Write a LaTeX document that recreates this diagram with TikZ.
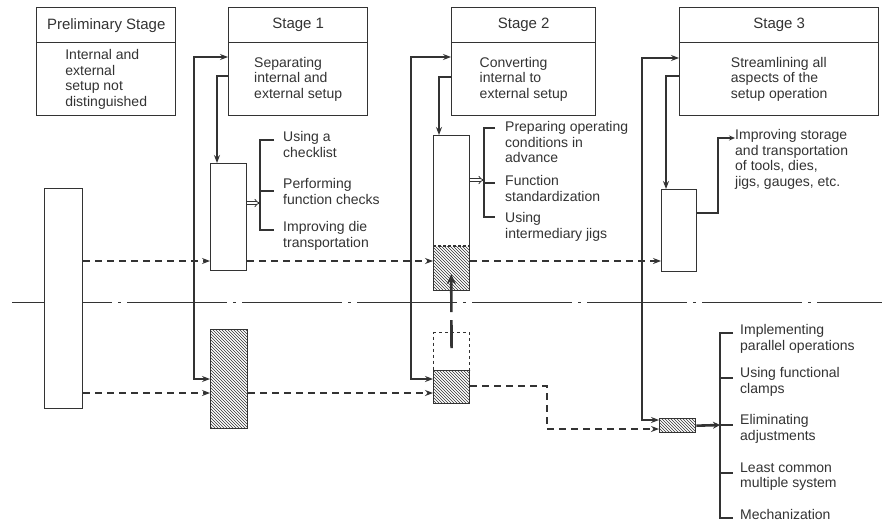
\documentclass[tikz,border=0pt]{standalone}
\usepackage{fontspec}
\setmainfont{Liberation Sans}
\usetikzlibrary{arrows.meta,patterns}
\definecolor{ink}{HTML}{333333}
\begin{document}
\begin{tikzpicture}[x=1pt,y=-1pt,
  every node/.style={text=ink},
  ln/.style={draw=ink, line width=1.1pt},
  boxl/.style={draw=ink, line width=1.4pt, fill=white, inner sep=0pt, anchor=north west},
  hdr/.style={boxl, font=\fontsize{15}{17}\selectfont},
  bdy/.style={boxl, font=\fontsize{14}{15.5}\selectfont, align=left},
  item/.style={inner sep=0pt, anchor=north west, align=left, font=\fontsize{14}{15.5}\selectfont},
  tip/.style={-{Stealth[length=8pt,width=6pt]}},
  twotip/.style={{Stealth[length=8pt,width=6pt]}-{Stealth[length=8pt,width=6pt]}},
  dsh/.style={ln, dash pattern=on 7pt off 5pt},
  hatch/.style={draw=ink, line width=1.4pt, inner sep=0pt, anchor=north west, pattern=north west lines, pattern color=ink},
  hollow/.style={draw=ink, line width=0.8pt, double distance=2pt, -{Implies}},
  thick/.style={draw=ink, line width=2.6pt},
]
\useasboundingbox (0,0) rectangle (882,522);
\fill[white] (0,0) rectangle (882,522);

% centre line
\coordinate (cl1) at (12,302);
\coordinate (cl2) at (882,302);
\draw[ln, line width=1pt, dash pattern=on 100pt off 6pt on 3pt off 6pt] (cl1) -- (cl2);

% stage boxes
\node[hdr, minimum width=139pt, minimum height=35pt] (p0h) at (36,7) {Preliminary Stage};
\node[bdy, minimum width=139pt, minimum height=73pt] (p0b) at (36,42) {Internal and\\external\\setup not\\distinguished};
\node[hdr, minimum width=139pt, minimum height=35pt] (s1h) at (228,7) {Stage 1};
\node[bdy, minimum width=139pt, minimum height=73pt] (s1b) at (228,42) {Separating\\internal and\\external setup};
\node[hdr, minimum width=144pt, minimum height=35pt] (s2h) at (451,7) {Stage 2};
\node[bdy, minimum width=144pt, minimum height=73pt] (s2b) at (451,42) {Converting\\internal to\\external setup};
\node[hdr, minimum width=199pt, minimum height=35pt] (s3h) at (679,7) {Stage 3};
\node[bdy, minimum width=199pt, minimum height=73pt] (s3b) at (679,42) {Streamlining all\\aspects of the\\setup operation};

% operation boxes
\node[boxl, minimum width=38pt, minimum height=220pt] (p0) at (44,188) {};
\node[boxl, minimum width=36pt, minimum height=107pt] (b1) at (210,163) {};
\node[hatch, minimum width=37pt, minimum height=99pt] (h1) at (210,329) {};
\node[boxl, minimum width=36pt, minimum height=155pt] (b2) at (433,135) {};
\node[inner sep=0pt, anchor=north west, pattern=north west lines, pattern color=ink, minimum width=36pt, minimum height=44pt] (b2h) at (433,246) {};
\draw[ln, dash pattern=on 3pt off 2pt] (b2h.north west) -- (b2h.north east);
\node[draw=ink, line width=1.1pt, dash pattern=on 3pt off 3pt, inner sep=0pt, anchor=north west, minimum width=36pt, minimum height=38pt] (d2) at (433,332) {};
\node[hatch, minimum width=36pt, minimum height=33pt] (h2) at (433,370) {};
\node[boxl, minimum width=35pt, minimum height=82pt] (b3) at (661,189) {};
\node[hatch, minimum width=36pt, minimum height=14pt] (h3) at (659,418) {};

% stage 1 connectors
\draw[ln, twotip] (s1b.west |- 0,57) -| (194,379) -- (h1.west |- 0,379);
\draw[ln, tip] (s1b.west |- 0,76) -| (b1.north -| 217,0);
% stage 2 connectors
\draw[ln, twotip] (s2b.west |- 0,57) -| (411,379) -- (h2.west |- 0,379);
\draw[ln, tip] (s2b.west |- 0,77) -| (b2.north -| 439,0);
\draw[thick, dash pattern=on 28pt off 8pt on 80pt, -{Stealth[length=10pt,width=9pt]}] (d2.center |- 0,348) -- (b2h.center |- 0,274);
% stage 3 connectors
\draw[ln, twotip] (s3b.west |- 0,58) -| (642,420) -- (h3.west |- 0,420);
\draw[ln, tip] (s3b.west |- 0,76) -| (b3.north -| 666,0);

% dashed flows
\draw[dsh, tip] (p0.east |- 0,261) -- (b1.west |- 0,261);
\draw[dsh, tip] (b1.east |- 0,261) -- (b2.west |- 0,261);
\draw[dsh, tip] (b2.east |- 0,261) -- (b3.west |- 0,261);
\draw[dsh, tip] (p0.east |- 0,393) -- (h1.west |- 0,393);
\draw[dsh, tip] (h1.east |- 0,393) -- (h2.west |- 0,393);
\draw[dsh, tip] (h2.east |- 0,386) -| (547,429) -- (h3.west |- 0,429);

% technique lists
\node[item] (t11) at (283,131.5) {Using a\\checklist};
\node[item] (t12) at (283,178.5) {Performing\\function checks};
\node[item] (t13) at (283,221.5) {Improving die\\transportation};
\draw[ln] (274,140) -- (260,140) -- (260,230) -- (274,230);
\draw[ln] (260,191) -- (274,191);
\draw[hollow] (b1.east |- 0,203) -- (260,203);

\node[item] (t21) at (505,121.5) {Preparing operating\\conditions in\\advance};
\node[item] (t22) at (505,175.5) {Function\\standardization};
\node[item] (t23) at (505,212.5) {Using\\intermediary jigs};
\draw[ln] (495,128) -- (484,128) -- (484,217) -- (495,217);
\draw[ln] (484,183) -- (495,183);
\draw[hollow] (b2.east |- 0,180) -- (484,180);

\node[item] (t30) at (735,129.5) {Improving storage\\and transportation\\of tools, dies,\\jigs, gauges, etc.};
\draw[ln, -{Stealth[length=6pt,width=5pt]}] (b3.east |- 0,213) -| (718,138) -- (t30.west |- 0,138);

\node[item] (t31) at (740,324.5) {Implementing\\parallel operations};
\node[item] (t32) at (740,367.5) {Using functional\\clamps};
\node[item] (t33) at (740,414.5) {Eliminating\\adjustments};
\node[item] (t34) at (740,462.5) {Least common\\multiple system};
\node[item] (t35) at (740,509.5) {Mechanization};
\draw[ln] (733,333) -- (720,333) -- (720,518) -- (733,518);
\draw[ln] (720,378) -- (733,378);
\draw[ln] (720,425) -- (733,425);
\draw[ln] (720,473) -- (733,473);
\draw[thick, -{Stealth[length=7pt,width=7pt]}] (h3.east) -- (720,425);
\end{tikzpicture}
\end{document}
